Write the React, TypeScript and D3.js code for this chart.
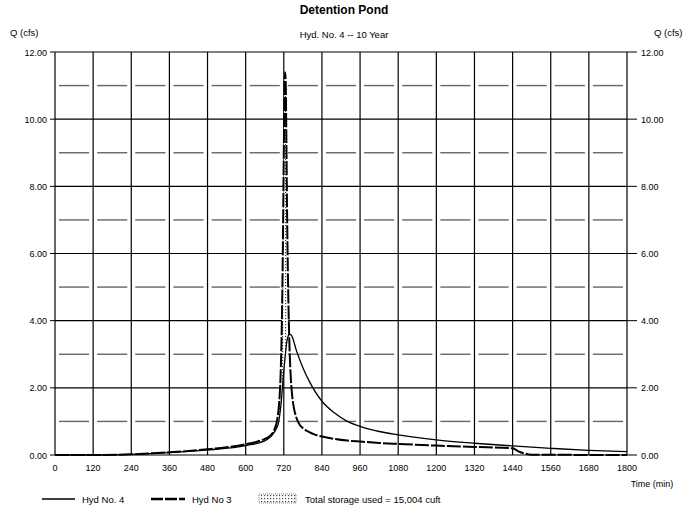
import React from "react";
import * as d3 from "d3";

const xTicks = [0, 120, 240, 360, 480, 600, 720, 840, 960, 1080, 1200, 1320, 1440, 1560, 1680, 1800];
const yMajor = [0, 2, 4, 6, 8, 10, 12];
const yMinor = [1, 3, 5, 7, 9, 11];

// Hyd No. 3 (inflow)
const inTimes = [0, 120, 240, 300, 360, 420, 480, 540, 600, 630, 660, 680, 690, 700, 705, 710, 714, 718, 720, 722, 724, 726, 728, 730, 734, 738, 742, 746, 750, 760, 770, 780, 800, 820, 840, 880, 920, 960, 1020, 1080, 1200, 1320, 1440, 1460, 1480, 1500, 1800];
const inQ = [0, 0, 0.02, 0.05, 0.08, 0.12, 0.17, 0.23, 0.32, 0.38, 0.48, 0.6, 0.75, 1.1, 1.5, 2.4, 4.0, 7.0, 9.0, 10.6, 11.4, 11.1, 9.5, 7.5, 4.8, 3.2, 2.3, 1.8, 1.5, 1.1, 0.9, 0.8, 0.68, 0.6, 0.55, 0.48, 0.43, 0.4, 0.36, 0.33, 0.28, 0.24, 0.2, 0.1, 0.04, 0.01, 0];

// Hyd No. 4 (outflow)
const outTimes = [0, 120, 240, 360, 480, 600, 660, 700, 710, 720, 730, 738, 745, 760, 780, 800, 840, 880, 920, 960, 1020, 1080, 1200, 1320, 1440, 1560, 1680, 1800];
const outQ = [0, 0, 0.02, 0.07, 0.15, 0.28, 0.42, 0.85, 1.4, 2.5, 3.4, 3.6, 3.55, 3.1, 2.6, 2.2, 1.6, 1.25, 1.0, 0.85, 0.7, 0.6, 0.45, 0.35, 0.27, 0.2, 0.14, 0.1];

const W = 688, H = 506;
const L = 55, R = 627, T = 52, B = 455;
const FONT = "'Liberation Sans', Arial, sans-serif";

export default function App() {
  const x = d3.scaleLinear().domain([0, 1800]).range([L, R]);
  const y = d3.scaleLinear().domain([0, 12]).range([B, T]);

  const inPts: [number, number][] = inTimes.map((t, i) => [t, inQ[i]]);
  const outPts: [number, number][] = outTimes.map((t, i) => [t, outQ[i]]);
  const line = d3.line<[number, number]>().x(d => x(d[0])).y(d => y(d[1])).curve(d3.curveMonotoneX);

  const outInterp = (t: number) => {
    const i = d3.bisectLeft(outTimes, t);
    if (i <= 0) return outQ[0];
    if (i >= outTimes.length) return outQ[outQ.length - 1];
    const t0 = outTimes[i - 1], t1 = outTimes[i];
    const f = (t - t0) / (t1 - t0);
    return outQ[i - 1] + f * (outQ[i] - outQ[i - 1]);
  };
  const storTimes = inTimes.filter(t => t >= 600 && t <= 736);
  const storPts = storTimes.map(t => {
    const hi = inQ[inTimes.indexOf(t)];
    return { t, hi, lo: Math.min(outInterp(t), hi) };
  });
  const area = d3.area<{ t: number; hi: number; lo: number }>()
    .x(d => x(d.t)).y0(d => y(d.lo)).y1(d => y(d.hi)).curve(d3.curveMonotoneX);

  const cells = d3.pairs(xTicks);

  return (
    <div style={{ position: "absolute", left: 0, top: 0 }}>
      <svg width={W} height={H} style={{ display: "block", background: "#fff" }} fontFamily={FONT}>
        <defs>
          <pattern id="dots" width="3" height="3" patternUnits="userSpaceOnUse">
            <rect width="3" height="3" fill="#fff" />
            <rect width="1.2" height="1.2" fill="#444" />
          </pattern>
        </defs>
        <rect width={W} height={H} fill="#fff" />
        <text x={344} y={14} textAnchor="middle" fontSize={12} fontWeight="bold">Detention Pond</text>
        <text x={344} y={38} textAnchor="middle" fontSize={9.5}>Hyd. No. 4 -- 10 Year</text>
        <text x={10} y={36} fontSize={9.5}>Q (cfs)</text>
        <text x={654} y={36} fontSize={9.5}>Q (cfs)</text>

        {yMinor.map(v => cells.map(([a, b]) => (
          <line key={`m${v}-${a}`} x1={x(a) + 4} x2={x(b) - 4} y1={y(v)} y2={y(v)} stroke="#666" strokeWidth={1.4} />
        )))}
        {yMajor.map(v => (
          <line key={`h${v}`} x1={L} x2={R} y1={y(v)} y2={y(v)} stroke="#000" strokeWidth={1.2} />
        ))}
        {xTicks.map(t => (
          <line key={`v${t}`} x1={x(t)} x2={x(t)} y1={T} y2={B} stroke="#000" strokeWidth={1.2} />
        ))}

        {yMajor.map(v => (
          <g key={`ly${v}`}>
            <line x1={L - 5} x2={L} y1={y(v)} y2={y(v)} stroke="#000" />
            <line x1={R} x2={R + 10} y1={y(v)} y2={y(v)} stroke="#000" />
            <text x={47} y={y(v) + 3.5} textAnchor="end" fontSize={9}>{v.toFixed(2)}</text>
            <text x={641} y={y(v) + 3.5} textAnchor="start" fontSize={9}>{v.toFixed(2)}</text>
          </g>
        ))}
        {xTicks.map(t => (
          <text key={`xt${t}`} x={x(t)} y={471} textAnchor="middle" fontSize={9}>{t}</text>
        ))}
        <text x={652} y={487} textAnchor="middle" fontSize={9}>Time (min)</text>

        <path d={area(storPts) || ""} fill="url(#dots)" stroke="none" />

        <path d={line(outPts) || ""} fill="none" stroke="#000" strokeWidth={1.3} />
        <path d={line(inPts) || ""} fill="none" stroke="#000" strokeWidth={2} strokeDasharray="14,2" />

        <line x1={42} x2={75} y1={499} y2={499} stroke="#000" strokeWidth={1.3} />
        <text x={82} y={502.5} fontSize={9.5}>Hyd No. 4</text>
        <line x1={151} x2={185} y1={499} y2={499} stroke="#000" strokeWidth={2.4} strokeDasharray="12,2" />
        <text x={192} y={502.5} fontSize={9.5}>Hyd No  3</text>
        <rect x={259} y={494} width={37} height={9} fill="url(#dots)" stroke="#666" strokeDasharray="1,1" strokeWidth={0.8} />
        <text x={305} y={502.5} fontSize={9.5}>Total storage used = 15,004 cuft</text>
      </svg>
    </div>
  );
}
